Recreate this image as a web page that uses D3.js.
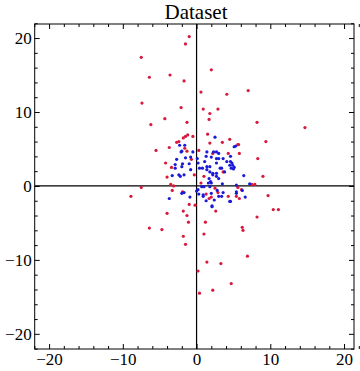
<!DOCTYPE html>
<meta charset="utf-8">
<style>
body { margin: 0; background: #fff; }
svg { display: block; }
.axis text { font-family: "Liberation Serif", "DejaVu Serif", serif; font-size: 17px; fill: #000; }
.axis path { display: none; }
.axis line { stroke: #000; stroke-width: 1px; }
.title { font-family: "Liberation Serif", "DejaVu Serif", serif; font-size: 21px; }
</style>
<body>
<script src="https://cdn.jsdelivr.net/npm/d3@7"></script>
<script>
var width = 360, height = 371;

// red series (wide spread)
var redPts = [
  [-1.0,20.2],[-1.5,19.2],[-7.5,17.4],[2.0,15.7],[-6.4,14.7],[-3.6,15.0],[-1.7,14.2],
  [0.6,12.7],[4.1,12.4],[7.0,12.9],[-7.4,11.2],[-2.1,10.6],[0.9,10.4],[2.9,10.4],
  [1.8,9.8],[-4.3,9.1],[1.7,9.0],[8.2,8.6],[14.7,7.9],[-6.2,8.3],[-1.3,8.6],
  [9.4,6.0],[5.6,5.6],[1.5,7.0],[-5.5,4.8],[-3.7,5.2],[-2.7,5.9],[-2.4,6.0],
  [-1.8,6.5],[-1.5,6.7],[-1.2,6.9],[-0.5,6.7],[-1.6,5.1],[1.8,5.8],[3.5,5.9],
  [4.5,6.3],[5.7,5.6],[-1.3,4.7],[0.3,4.8],[2.2,4.4],[4.3,4.4],[5.8,4.4],
  [-0.7,3.6],[-4.2,3.1],[-3.4,2.5],[8.3,3.7],[-4.0,1.2],[3.6,1.9],[1.0,1.3],
  [2.5,-0.3],[2.9,-0.9],[-0.3,1.5],[0.6,0.4],[-7.5,-0.2],[-8.9,-1.4],[-3.5,0.2],
  [-3.1,0.0],[-3.3,-0.6],[-1.9,-0.8],[1.3,-1.1],[1.7,-1.7],[2.0,-1.5],[4.3,-1.4],
  [5.6,-0.2],[5.4,-1.4],[5.8,-1.7],[7.5,0.2],[7.9,0.2],[9.0,1.3],[9.7,-1.3],
  [10.4,-3.2],[11.1,-3.2],[8.2,-4.2],[6.1,-0.5],[-1.0,-2.5],[-0.2,-2.6],[-4.0,-3.7],
  [-1.8,-3.4],[-1.3,-4.0],[2.6,-3.4],[-1.1,-4.9],[1.2,-4.9],[-6.4,-5.7],[-4.7,-5.9],
  [1.0,-6.5],[-1.8,-6.8],[-1.5,-7.9],[6.2,-5.6],[6.3,-6.0],[6.9,-9.5],[1.4,-10.3],
  [3.3,-10.5],[0.2,-11.5],[4.7,-13.2],[2.2,-14.1],[0.4,-14.5]
];

// blue series (tight cluster)
var bluePts = [
  [5.1,5.3],[5.3,5.4],[4.6,4.0],[4.8,3.1],[4.9,2.8],[4.7,2.4],[5.1,2.5],[4.6,3.3],
  [6.4,1.4],[7.2,0.3],[5.4,0.1],[6.2,-0.6],[5.4,-1.0],[6.6,-1.5],[4.5,-2.1],[2.5,6.6],
  [-2.1,4.6],[-0.5,4.6],[1.4,4.6],[2.3,4.6],[2.7,4.6],[3.0,4.4],[-2.3,5.5],[-1.6,5.5],
  [-2.0,4.7],[-2.7,3.6],[-1.5,3.8],[-0.8,3.9],[0.1,3.7],[1.3,4.0],[2.0,3.9],[2.7,3.7],
  [3.0,3.7],[3.6,3.7],[-2.9,2.9],[-1.9,3.0],[-1.0,3.0],[0.2,3.1],[1.1,3.3],[2.7,3.1],
  [4.1,3.3],[-2.0,2.6],[-2.9,2.4],[0.4,2.4],[0.8,2.4],[1.4,2.6],[1.8,2.6],[3.2,2.4],
  [3.4,2.4],[4.5,2.8],[5.0,2.3],[-0.8,2.2],[1.4,2.2],[1.8,1.9],[2.7,1.7],[3.8,1.9],
  [2.2,1.7],[-2.4,1.5],[-2.2,1.3],[-3.3,1.4],[-1.7,1.5],[2.2,1.5],[2.7,1.3],[1.7,1.0],
  [3.0,1.0],[1.9,0.6],[1.6,0.4],[2.0,0.4],[1.8,-0.1],[1.0,-0.1],[0.7,-0.1],[0.2,-0.5],
  [3.5,0.3],[-3.7,-1.7],[-2.0,-1.0],[-1.7,-0.9],[-0.9,-1.5],[0.0,-0.7],[0.3,-1.1],
  [0.9,-1.4],[0.9,-1.2],[2.0,-1.0],[3.0,-1.4],[3.6,-0.9],[4.6,-2.1],[5.4,-0.8],
  [2.1,-2.7],[2.1,-2.8],[3.4,-1.4],[1.3,-2.0],[2.8,-0.6],[2.4,-1.9]
];

var majorTicks = [-20, -10, 0, 10, 20];
var minorTicks = d3.range(-22, 23, 2).filter(function(t) { return t % 10 != 0; });

var x = d3.scaleLinear().domain([-21.95, 21.35]).range([34.7, 354]);
var y = d3.scaleLinear().domain([-22.05, 21.9]).range([349, 24]);

var svg = d3.select("body").append("svg")
    .attr("width", width)
    .attr("height", height);

svg.append("text")
    .attr("class", "title")
    .attr("x", 196)
    .attr("y", 19)
    .attr("text-anchor", "middle")
    .text("Dataset");

function fmt(d) { return d < 0 ? "\u2212" + Math.abs(d) : "" + d; }

// bottom
svg.append("g").attr("class", "axis").attr("transform", "translate(0,349)")
  .call(d3.axisBottom(x).tickValues(majorTicks).tickSizeInner(-5).tickPadding(4).tickFormat(fmt));
svg.append("g").attr("class", "axis").attr("transform", "translate(0,349)")
  .call(d3.axisBottom(x).tickValues(minorTicks).tickSizeInner(-3).tickFormat(""));
// top
svg.append("g").attr("class", "axis").attr("transform", "translate(0,24)")
  .call(d3.axisTop(x).tickValues(majorTicks).tickSizeInner(-5).tickFormat(""));
svg.append("g").attr("class", "axis").attr("transform", "translate(0,24)")
  .call(d3.axisTop(x).tickValues(minorTicks).tickSizeInner(-3).tickFormat(""));
// left
svg.append("g").attr("class", "axis").attr("transform", "translate(34.7,0)")
  .call(d3.axisLeft(y).tickValues(majorTicks).tickSizeInner(-5).tickPadding(3).tickFormat(fmt));
svg.append("g").attr("class", "axis").attr("transform", "translate(34.7,0)")
  .call(d3.axisLeft(y).tickValues(minorTicks).tickSizeInner(-3).tickFormat(""));
// right
svg.append("g").attr("class", "axis").attr("transform", "translate(354,0)")
  .call(d3.axisRight(y).tickValues(majorTicks).tickSizeInner(-5).tickFormat(""));
svg.append("g").attr("class", "axis").attr("transform", "translate(354,0)")
  .call(d3.axisRight(y).tickValues(minorTicks).tickSizeInner(-3).tickFormat(""));

// frame
svg.append("rect")
    .attr("x", 34.7).attr("y", 24)
    .attr("width", 354 - 34.7).attr("height", 349 - 24)
    .attr("fill", "none").attr("stroke", "#000").attr("stroke-width", 1);

// axes through origin
svg.append("line")
    .attr("x1", x(0)).attr("x2", x(0)).attr("y1", 24).attr("y2", 349)
    .attr("stroke", "#000").attr("stroke-width", 1.2);
svg.append("line")
    .attr("x1", 34.7).attr("x2", 354).attr("y1", y(0)).attr("y2", y(0))
    .attr("stroke", "#000").attr("stroke-width", 1.2);

svg.append("g").selectAll("circle")
  .data(redPts)
  .enter().append("circle")
    .attr("cx", function(d) { return x(d[0]); })
    .attr("cy", function(d) { return y(d[1]); })
    .attr("r", 1.6)
    .style("fill", "#d8183c");

svg.append("g").selectAll("circle")
  .data(bluePts)
  .enter().append("circle")
    .attr("cx", function(d) { return x(d[0]); })
    .attr("cy", function(d) { return y(d[1]); })
    .attr("r", 1.6)
    .style("fill", "#1a1ad8");
</script>
</body>
